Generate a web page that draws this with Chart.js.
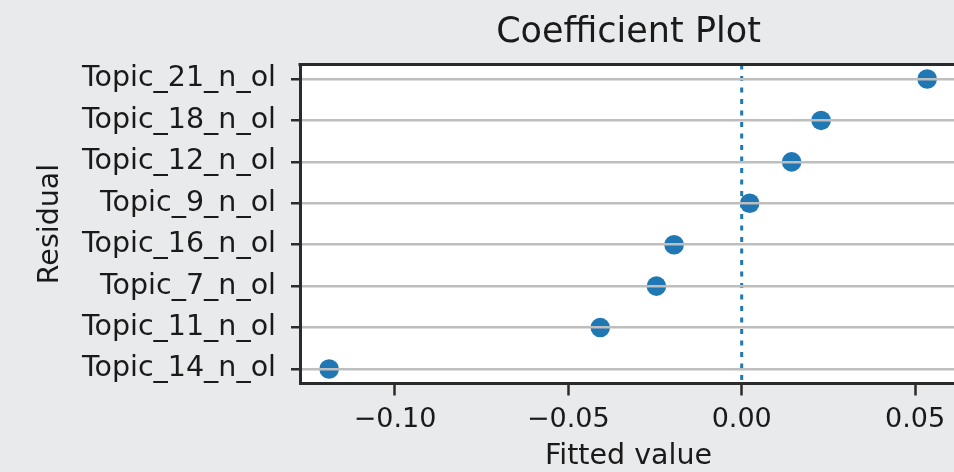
<!DOCTYPE html>
<html>
<head>
<meta charset="utf-8">
<script src="https://cdn.jsdelivr.net/npm/chart.js@4/dist/chart.umd.min.js"></script>
<style>
  html, body { margin: 0; padding: 0; background: #e9eaec; overflow: hidden; }
  #wrap { width: 970px; height: 472px; position: relative; }
</style>
</head>
<body>
<div id="wrap"><canvas id="chart"></canvas></div>
<script>
// Topics, listed from the top row to the bottom row
const topics = [
  'Topic_21_n_ol', 'Topic_18_n_ol', 'Topic_12_n_ol', 'Topic_9_n_ol',
  'Topic_16_n_ol', 'Topic_7_n_ol', 'Topic_11_n_ol', 'Topic_14_n_ol'
];
// Estimated coefficient for each topic
const coefficients = [0.0535, 0.0229, 0.0144, 0.0023, -0.0195, -0.0246, -0.0408, -0.1190];
// Tick values on the horizontal axis
const xTickValues = [-0.10, -0.05, 0.00, 0.05];

const FONT = "'DejaVu Sans', sans-serif";
const TEXT = '#1a1a1a';
const SPINE = '#2b2b2b';
const BLUE = '#1f77b4';

const points = coefficients.map((v, i) => ({ x: v, y: i }));

const fmtTick = v => (v < 0 ? '\u2212' : '') + Math.abs(v).toFixed(2);

// White plot area, top spine, and a dotted reference line at zero
const plotDecor = {
  id: 'plotDecor',
  beforeDraw(chart) {
    const { ctx, chartArea: a } = chart;
    ctx.save();
    ctx.fillStyle = '#ffffff';
    ctx.fillRect(a.left, a.top, a.right - a.left, a.bottom - a.top);
    ctx.restore();
  },
  afterDatasetsDraw(chart) {
    const { ctx, chartArea: a, scales } = chart;
    const x0 = scales.x.getPixelForValue(0);
    ctx.save();
    ctx.strokeStyle = BLUE;
    ctx.lineWidth = 3;
    ctx.setLineDash([5, 6.5]);
    ctx.beginPath();
    ctx.moveTo(x0, a.top);
    ctx.lineTo(x0, a.bottom);
    ctx.stroke();
    ctx.restore();
  },
  afterDraw(chart) {
    const { ctx, chartArea: a } = chart;
    ctx.save();
    ctx.strokeStyle = SPINE;
    ctx.lineWidth = 3;
    ctx.beginPath();
    ctx.moveTo(a.left - 1.5, a.top);
    ctx.lineTo(a.right + 2, a.top);
    ctx.stroke();
    ctx.restore();
  }
};

new Chart(document.getElementById('chart'), {
  type: 'scatter',
  data: {
    datasets: [{
      data: points,
      backgroundColor: BLUE,
      borderWidth: 0,
      pointRadius: 9.8,
      pointHoverRadius: 9.8
    }]
  },
  options: {
    responsive: true,
    maintainAspectRatio: false,
    devicePixelRatio: 1,
    animation: false,
    events: [],
    layout: { padding: { left: 0, top: 0, right: 13, bottom: 0 } },
    plugins: {
      legend: { display: false },
      tooltip: { enabled: false },
      title: {
        display: true,
        text: 'Coefficient Plot',
        fullSize: false,
        color: TEXT,
        font: { family: FONT, size: 35, weight: 'normal', lineHeight: 1.2 },
        padding: { top: 12, bottom: 10.5 }
      }
    },
    scales: {
      x: {
        type: 'linear',
        min: -0.1274,
        max: 0.0621,
        afterBuildTicks: s => { s.ticks = xTickValues.map(v => ({ value: v })); },
        afterFit: s => { s.height = 88.5; },
        ticks: {
          color: TEXT,
          font: { family: FONT, size: 27 },
          padding: 8,
          maxRotation: 0,
          autoSkip: false,
          callback: v => fmtTick(v)
        },
        grid: {
          drawOnChartArea: false,
          drawTicks: true,
          tickLength: 12,
          tickColor: SPINE,
          tickWidth: 2.5
        },
        border: { display: true, color: SPINE, width: 3 },
        title: {
          display: true,
          text: 'Fitted value',
          color: TEXT,
          font: { family: FONT, size: 28.5, lineHeight: 1 },
          padding: { top: 0, bottom: 1 }
        }
      },
      y: {
        type: 'linear',
        reverse: true,
        min: -0.35,
        max: topics.length - 1 + 0.35,
        afterBuildTicks: s => { s.ticks = topics.map((t, i) => ({ value: i })); },
        afterFit: s => { s.width = 300; },
        ticks: {
          color: TEXT,
          font: { family: FONT, size: 28.5 },
          padding: 15,
          autoSkip: false,
          callback: v => topics[v]
        },
        grid: {
          z: 1,
          drawOnChartArea: true,
          color: '#bebebe',
          lineWidth: 2.5,
          drawTicks: true,
          tickLength: 9,
          tickColor: SPINE,
          tickWidth: 2.5
        },
        border: { display: true, color: SPINE, width: 3, z: 2 },
        title: {
          display: true,
          text: 'Residual',
          color: TEXT,
          font: { family: FONT, size: 28.5, lineHeight: 1 },
          padding: { top: 36, bottom: 0 }
        }
      }
    }
  },
  plugins: [plotDecor]
});
</script>
</body>
</html>
